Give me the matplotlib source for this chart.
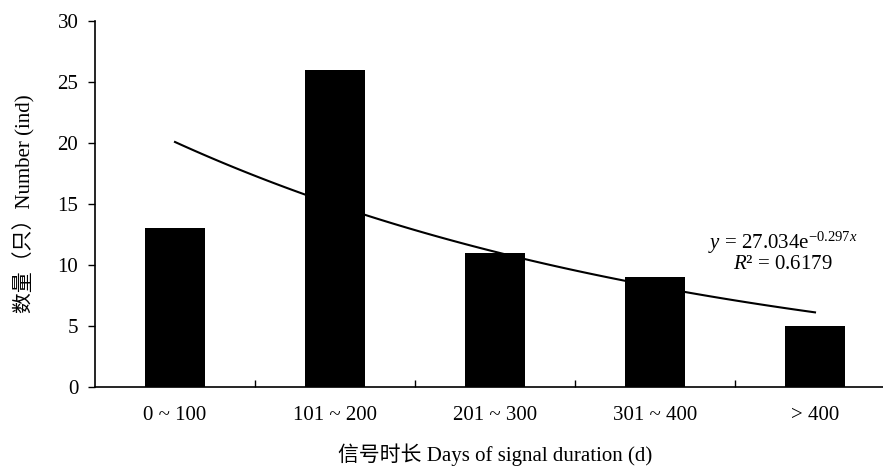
import numpy as np
import matplotlib
matplotlib.use('Agg')
import matplotlib.pyplot as plt

# ===== DONNÉES =====
categories = ['0 ~ 100', '101 ~ 200', '201 ~ 300', '301 ~ 400', '> 400']
counts = [13, 26, 11, 9, 5]
yticks = [0, 5, 10, 15, 20, 25, 30]

plt.rcParams['font.family'] = ['Liberation Serif', 'Noto Sans CJK SC']
plt.rcParams['mathtext.fontset'] = 'custom'
plt.rcParams['mathtext.rm'] = 'Liberation Serif'
plt.rcParams['mathtext.it'] = 'Liberation Serif:italic'

# courbe de tendance exponentielle (ajustée sur les barres)
x_idx = np.arange(1, len(counts) + 1)
b, ln_a = np.polyfit(x_idx, np.log(counts), 1)
x_fit = np.linspace(1, len(counts), 100)
y_fit = np.exp(ln_a) * np.exp(b * x_fit)

fig = plt.figure(figsize=(8.83, 4.70), dpi=100)
ax = fig.add_axes([95 / 883, 1 - 387 / 470, 800 / 883, 366 / 470])

pos = np.arange(len(categories))
ax.bar(pos, counts, width=0.38, color='black')
ax.plot(x_fit - 1, y_fit, color='black', lw=1.5)

ax.set_xlim(-0.5, len(categories) - 0.5)
ax.set_ylim(0, 30)
ax.set_yticks(yticks)
ax.set_xticks(pos)
ax.set_xticklabels(categories, fontsize=15)
ax.set_xticks(np.arange(0.5, len(categories) - 0.5), minor=True)
ax.tick_params(axis='x', which='major', length=0, pad=14)
ax.tick_params(axis='x', which='minor', direction='in', length=5, width=1)
ax.tick_params(axis='y', direction='out', length=5, width=1, labelsize=15, pad=7)

for s in ['top', 'right']:
    ax.spines[s].set_visible(False)
for s in ['left', 'bottom']:
    ax.spines[s].set_linewidth(1.2)

ax.set_ylabel('数量（只）Number (ind)', fontsize=15, labelpad=16)
ax.set_xlabel('信号时长 Days of signal duration (d)', fontsize=15, labelpad=13)

ax.text(3.80, 11.8, r'$y$ = 27.034e$^{-0.297x}$', fontsize=15, ha='center', va='center')
ax.text(3.80, 10.05, r'$R$² = 0.6179', fontsize=15, ha='center', va='center')

plt.savefig('out.png', dpi=100)
